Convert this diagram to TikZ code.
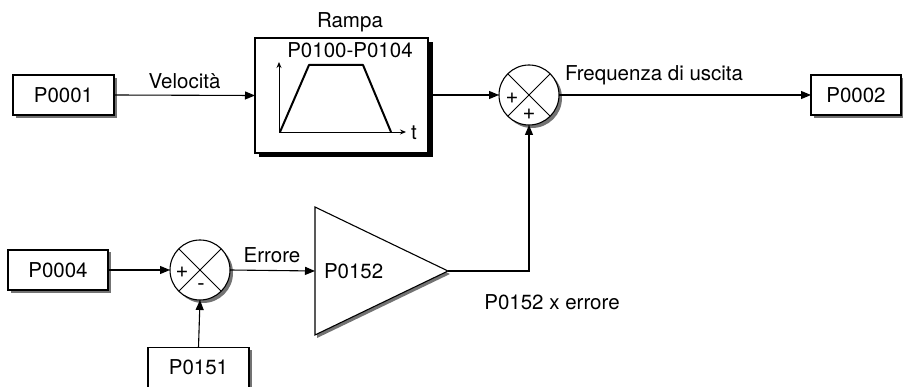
\documentclass[tikz,border=0pt]{standalone}
\usepackage{fontspec}
\setmainfont{TeX Gyre Heros}
\usetikzlibrary{arrows.meta,calc}
\begin{document}
\begin{tikzpicture}[x=1pt,y=-1pt,
  font=\fontsize{20.5}{23}\selectfont,
  every node/.style={inner sep=0pt, outer sep=0pt},
  pbox/.style={draw=black, line width=1.1pt, fill=white, rectangle, minimum width=100pt, minimum height=40pt},
  sumnode/.style={draw=black, line width=1.1pt, fill=white, circle, minimum size=60pt},
  shade/.style={fill=black!55},
  conn/.style={line width=1.1pt, -{Triangle[length=10pt,width=8pt]}},
  sign/.style={font=\fontsize{22}{23}\selectfont}]
\useasboundingbox (0,0) rectangle (903,387);

% shadows
\fill[shade] (16,78) rectangle (117,118);
\fill[shade] (814,78) rectangle (904,118);
\fill[shade] (11,252) rectangle (111,293);
\fill[shade] (151,350) rectangle (252,390);
\fill[black] (259,42) rectangle (433,157);
\fill[shade] (532,98) circle (30);
\fill[shade] (203,273) circle (30);
\fill[shade] (317,210) -- (450,274) -- (317,338) -- cycle;

% boxes
\node[pbox, minimum width=101pt] (p1) at (63.5,95) {P0001};
\node[pbox, minimum width=90pt] (p2) at (856,95) {P0002};
\node[pbox] (p4) at (58,270) {P0004};
\node[pbox, minimum width=101pt] (p151) at (198.5,367.5) {P0151};

% ramp box
\node[draw=black, line width=1.1pt, fill=white, minimum width=173pt, minimum height=115pt] (ramp) at (341.5,95.5) {};
\node (ramplbl) at (350,22) {Rampa};
\node (rampp) at (350,50) {P0100-P0104};
\coordinate (ro) at (279,132);
\coordinate (rtop) at (279,62);
\coordinate (rt) at (406,132);
\draw[line width=0.9pt, -{Stealth[length=6pt,width=5pt]}] (ro) -- (rtop);
\draw[line width=0.9pt, -{Stealth[length=6pt,width=5pt]}] (ro) -- (rt);
\node (tlbl) at (414,133) {t};
\draw[line width=2pt, line join=round] (280,132) -- (309,65) -- (363,65) -- (391,132);

% summing junctions
\node[sumnode] (s1) at (529,95) {};
\draw[line width=1pt] (s1.45) -- (s1.225) (s1.135) -- (s1.-45);
\node[sign] (s1a) at ($(s1)+(-17,3)$) {+};
\node[sign] (s1b) at ($(s1)+(0,19)$) {+};

\node[sumnode] (s2) at (200,270) {};
\draw[line width=1pt] (s2.45) -- (s2.225) (s2.135) -- (s2.-45);
\node[sign] (s2a) at ($(s2)+(-18,2)$) {+};
\node[sign] (s2b) at ($(s2)+(1,17)$) {-};

% amplifier
\coordinate (ampin) at (315,271);
\coordinate (ampout) at (448,271);
\draw[line width=1.1pt, fill=white, line join=miter]
  (315,207) -- (ampout) -- (315,335) -- cycle;
\node[anchor=west] (amp) at (324,271) {P0152};
\coordinate (corner) at (529,271);

% connectors
\draw[conn] (p1.east) -- node[above=6pt] (vel) {Velocità} (ramp.west);
\draw[conn] (433,95) -- (s1.west);
\draw[conn] (s1.east) -- (p2.west);
\node[anchor=west] (freq) at (565,75) {Frequenza di uscita};
\draw[conn] (p4.east) -- (s2.west);
\draw[conn] (p151.north) -- (s2.south);
\draw[conn] (s2.east) -- (ampin);
\node (err) at (272,255) {Errore};
\draw[conn] (ampout) -- (corner) -- (s1.south);
\node (gain) at (552,302) {P0152 x errore};
\end{tikzpicture}
\end{document}
